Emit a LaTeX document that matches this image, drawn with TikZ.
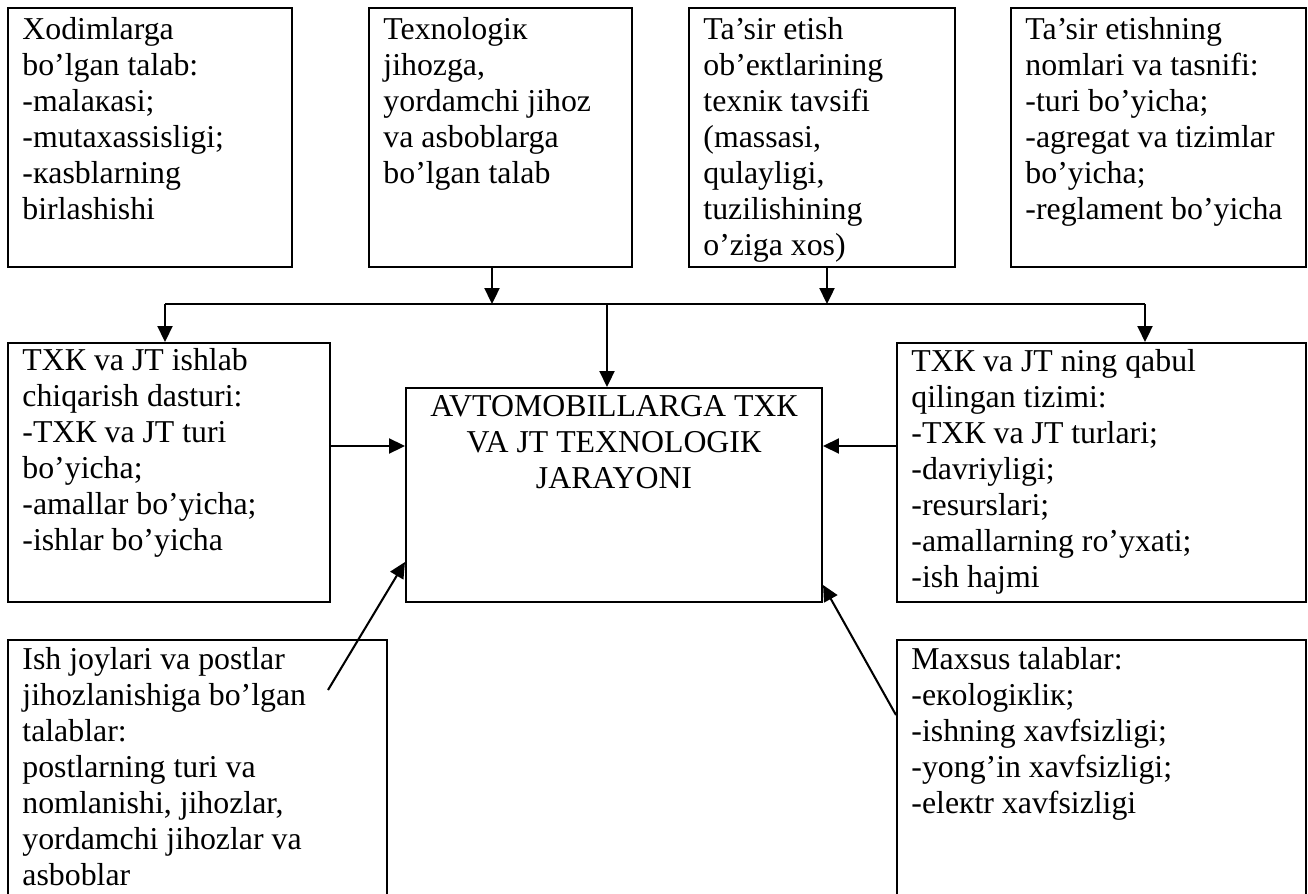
\documentclass[tikz,border=0pt]{standalone}
\usepackage{fontspec}
\setmainfont{Liberation Serif}
\usetikzlibrary{arrows.meta,fit}

% text of a box, first line on the node's baseline
\newcommand{\boxlines}[2][l]{\begin{tabular}[t]{@{}#1@{}}#2\end{tabular}}

\tikzset{
  box/.style={draw, line width=0.9pt, inner sep=0pt},
  txt/.style={anchor=base west, inner sep=0pt,
    font=\fontsize{14pt}{15.84pt}\selectfont},
  arr/.style={line width=0.9pt, -{Triangle[length=7pt,width=6.6pt]}}
}

\begin{document}
\begin{tikzpicture}[x=0.44pt, y=-0.44pt]
  \useasboundingbox (0,0) rectangle (1308,894);
  \clip (0,0) rectangle (1308,894);

  % top row
  \node[box, fit={(8,8) (292,267)}] (xodim) {};
  \node[txt] (xodim-t) at ([shift={(15,33)}]xodim.north west)
    {\boxlines{Xodimlarga\\bo’lgan talab:\\-malaкasi;\\-mutaxassisligi;\\-кasblarning\\birlashishi}};

  \node[box, fit={(369,8) (632,267)}] (jihoz) {};
  \node[txt] (jihoz-t) at ([shift={(15,33)}]jihoz.north west)
    {\boxlines{Texnologiк\\jihozga,\\yordamchi jihoz\\va asboblarga\\bo’lgan talab}};

  \node[box, fit={(689,8) (955,267)}] (obekt) {};
  \node[txt] (obekt-t) at ([shift={(15,33)}]obekt.north west)
    {\boxlines{Ta’sir etish\\ob’екtlarining\\texniк tavsifi\\(massasi,\\qulayligi,\\tuzilishining\\o’ziga xos)}};

  \node[box, fit={(1011,8) (1306,267)}] (tasnif) {};
  \node[txt] (tasnif-t) at ([shift={(15,33)}]tasnif.north west)
    {\boxlines{Ta’sir etishning\\nomlari va tasnifi:\\-turi bo’yicha;\\-agregat va tizimlar\\bo’yicha;\\-reglament bo’yicha}};

  % middle row
  \node[box, fit={(8,343) (330,602)}] (dastur) {};
  \node[txt] (dastur-t) at ([shift={(15,29)}]dastur.north west)
    {\boxlines{ТХК va JT ishlab\\chiqarish dasturi:\\-ТХК va JT turi\\bo’yicha;\\-amallar bo’yicha;\\-ishlar bo’yicha}};

  \node[box, fit={(406,388) (822,602)}] (jarayon) {};
  \node[txt, anchor=base] (jarayon-t) at ([shift={(0,30)}]jarayon.north)
    {\boxlines[c]{AVTOMOBILLARGA ТХК\\VA JT TEXNOLOGIК\\JARAYONI}};

  \node[box, fit={(897,343) (1306,602)}] (tizim) {};
  \node[txt] (tizim-t) at ([shift={(15,30)}]tizim.north west)
    {\boxlines{ТХК va JT ning qabul\\qilingan tizimi:\\-ТХК va JT turlari;\\-davriyligi;\\-resurslari;\\-amallarning ro’yxati;\\-ish hajmi}};

  % bottom row
  \node[box, fit={(8,640) (387,920)}] (post) {};
  \node[txt] (post-t) at ([shift={(15,31)}]post.north west)
    {\boxlines{Ish joylari va postlar\\jihozlanishiga bo’lgan\\talablar:\\postlarning turi va\\nomlanishi, jihozlar,\\yordamchi jihozlar va\\asboblar}};

  \node[box, fit={(897,640) (1306,920)}] (maxsus) {};
  \node[txt] (maxsus-t) at ([shift={(15,31)}]maxsus.north west)
    {\boxlines{Maxsus talablar:\\-екologiкliк;\\-ishning xavfsizligi;\\-yong’in xavfsizligi;\\-eleкtr xavfsizligi}};

  % connectors
  \coordinate (busL) at (165,304);
  \coordinate (busR) at (1145,304);
  \coordinate (bus1) at (492,304);
  \coordinate (bus2) at (827,304);
  \coordinate (bus0) at (607,304);
  \draw[line width=0.6pt] (busL) -- (busR);
  \draw[arr] (bus1 |- jihoz.south) -- (bus1);
  \draw[arr] (bus2 |- obekt.south) -- (bus2);
  \draw[arr] (busL) -- (busL |- dastur.north);
  \draw[arr] (bus0) -- (bus0 |- jarayon.north);
  \draw[arr] (busR) -- (busR |- tizim.north);

  \coordinate (mid) at (0,446);
  \draw[arr] (mid -| dastur.east) -- (mid -| jarayon.west);
  \draw[arr] (mid -| tizim.west) -- (mid -| jarayon.east);

  \coordinate (postP) at (328,690);
  \coordinate (tipL) at (0,562);
  \coordinate (maxP) at (0,715);
  \coordinate (tipR) at (0,585);
  \draw[arr] (postP) -- (tipL -| jarayon.west);
  \draw[arr] (maxP -| maxsus.west) -- (tipR -| jarayon.east);
\end{tikzpicture}
\end{document}
